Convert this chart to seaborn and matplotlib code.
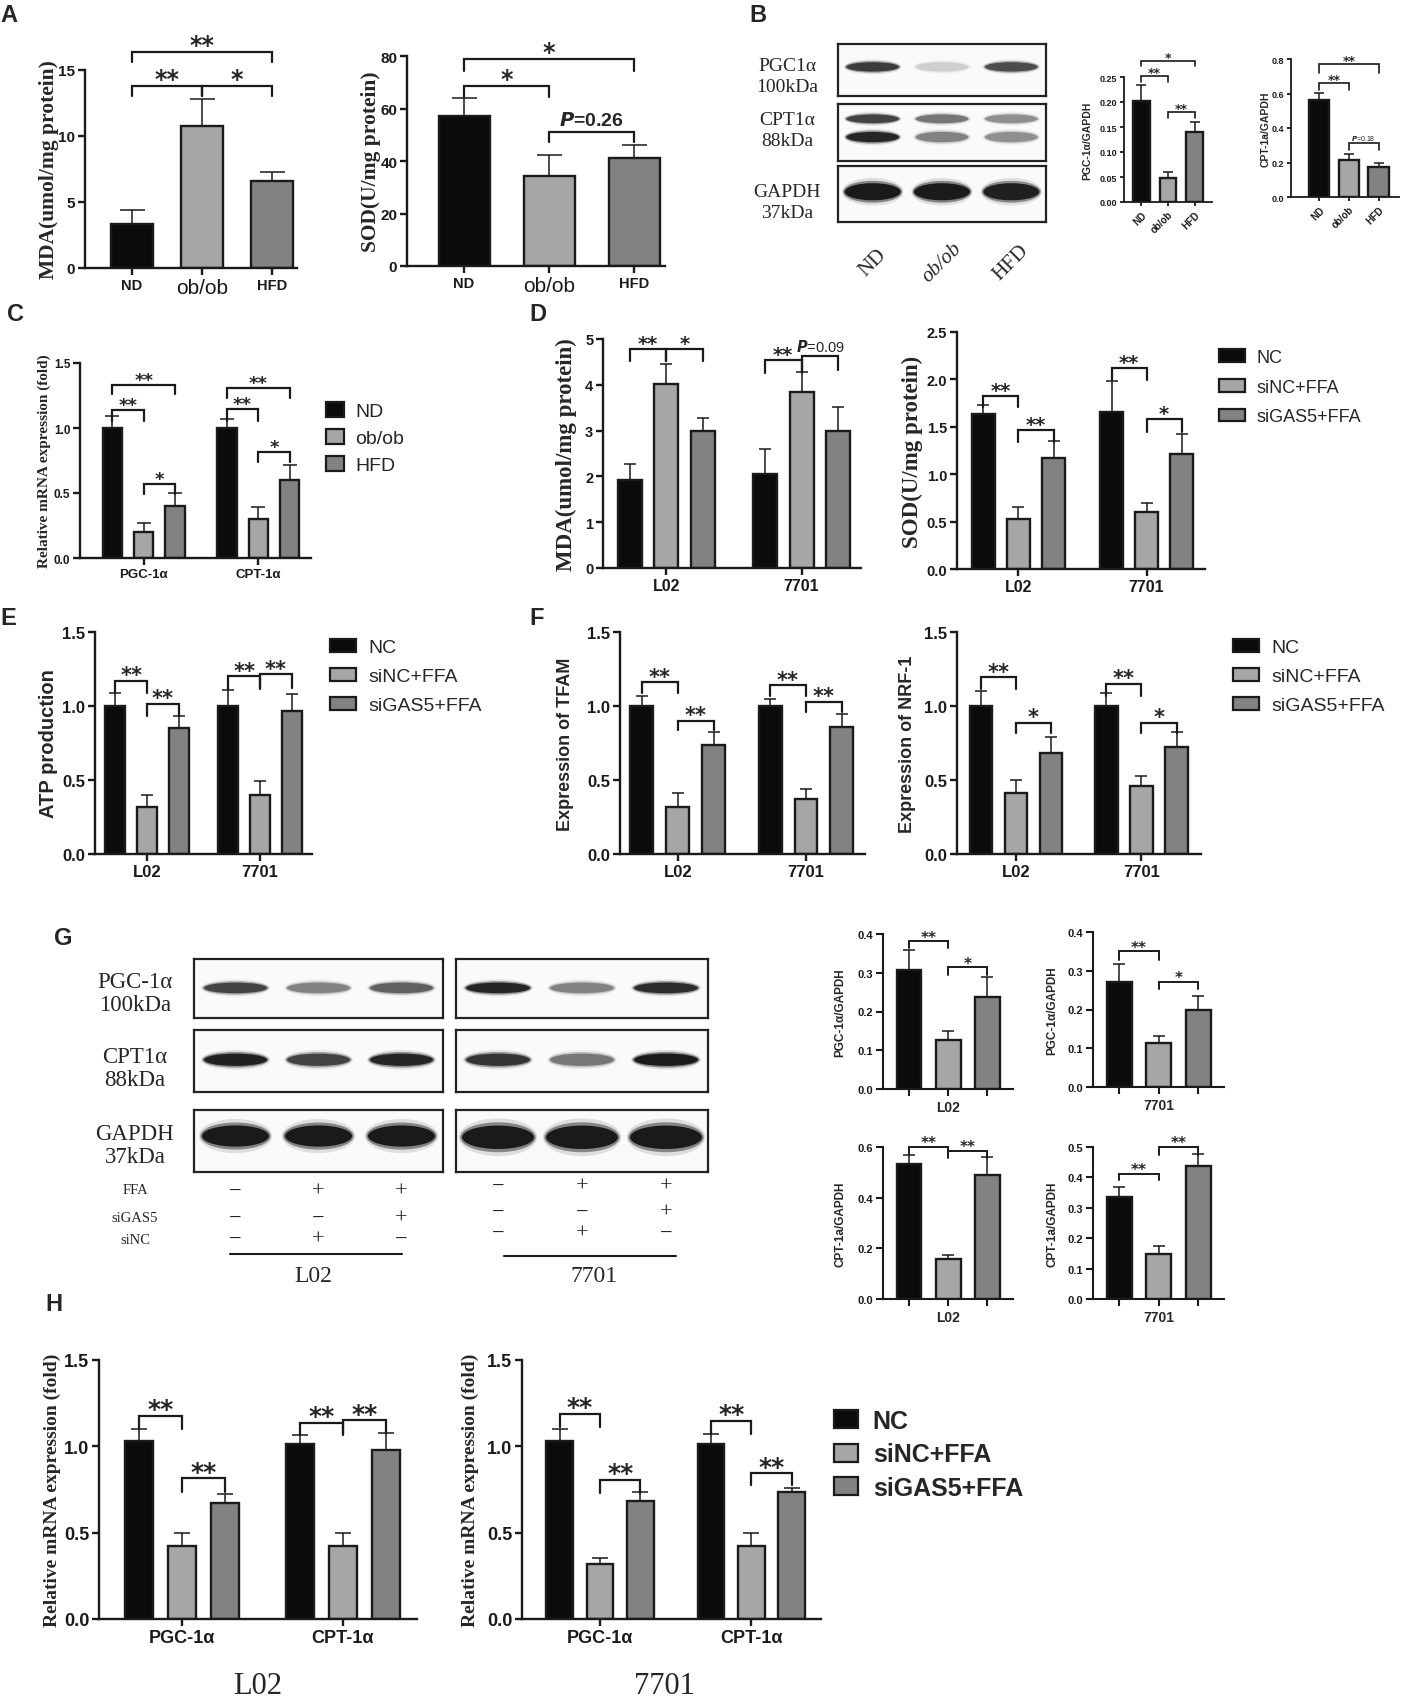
import numpy as np
import pandas as pd
import matplotlib
matplotlib.use("Agg")
import matplotlib.pyplot as plt
import matplotlib.transforms as mtransforms
from matplotlib.patches import Patch, Ellipse
from matplotlib.lines import Line2D
from matplotlib.ticker import FormatStrFormatter
import seaborn as sns

# ------------------------------------------------------------------ data
mice = ["ND", "ob/ob", "HFD"]
cells = ["L02", "7701"]
genes = ["PGC-1α", "CPT-1α"]
treat = ["NC", "siNC+FFA", "siGAS5+FFA"]

a_mda = [3.3, 10.75, 6.6]
a_mda_sem = [1.1, 2.05, 0.65]
a_sod = [57.3, 34.4, 41.1]
a_sod_sem = [6.6, 7.9, 5.0]

b_pgc = [0.203, 0.049, 0.140]
b_pgc_sem = [0.032, 0.011, 0.021]
b_cpt = [0.565, 0.212, 0.172]
b_cpt_sem = [0.036, 0.038, 0.027]

c_nd = [1.0, 1.0]
c_ob = [0.2, 0.3]
c_hfd = [0.4, 0.6]
c_nd_sem = [0.09, 0.07]
c_ob_sem = [0.07, 0.09]
c_hfd_sem = [0.10, 0.115]

d_mda_nc = [1.93, 2.06]
d_mda_sinc = [4.02, 3.85]
d_mda_sigas = [3.0, 3.0]
d_mda_nc_sem = [0.33, 0.53]
d_mda_sinc_sem = [0.43, 0.43]
d_mda_sigas_sem = [0.27, 0.51]

d_sod_nc = [1.64, 1.66]
d_sod_sinc = [0.53, 0.60]
d_sod_sigas = [1.17, 1.21]
d_sod_nc_sem = [0.09, 0.32]
d_sod_sinc_sem = [0.12, 0.10]
d_sod_sigas_sem = [0.18, 0.21]

e_atp_nc = [1.0, 1.0]
e_atp_sinc = [0.32, 0.40]
e_atp_sigas = [0.85, 0.965]
e_atp_nc_sem = [0.09, 0.11]
e_atp_sinc_sem = [0.08, 0.09]
e_atp_sigas_sem = [0.085, 0.115]

f_tfam_nc = [1.0, 1.0]
f_tfam_sinc = [0.315, 0.372]
f_tfam_sigas = [0.734, 0.855]
f_tfam_nc_sem = [0.07, 0.05]
f_tfam_sinc_sem = [0.095, 0.068]
f_tfam_sigas_sem = [0.09, 0.093]

f_nrf_nc = [1.0, 1.0]
f_nrf_sinc = [0.41, 0.457]
f_nrf_sigas = [0.685, 0.72]
f_nrf_nc_sem = [0.10, 0.09]
f_nrf_sinc_sem = [0.09, 0.068]
f_nrf_sigas_sem = [0.105, 0.104]

g_pgc_l02 = [0.307, 0.127, 0.237]
g_pgc_l02_sem = [0.052, 0.022, 0.051]
g_pgc_7701 = [0.271, 0.114, 0.200]
g_pgc_7701_sem = [0.046, 0.017, 0.036]
g_cpt_l02 = [0.532, 0.157, 0.491]
g_cpt_l02_sem = [0.038, 0.017, 0.070]
g_cpt_7701 = [0.335, 0.148, 0.436]
g_cpt_7701_sem = [0.033, 0.025, 0.042]

h_l02_nc = [1.031, 1.012]
h_l02_sinc = [0.42, 0.42]
h_l02_sigas = [0.669, 0.979]
h_l02_nc_sem = [0.068, 0.054]
h_l02_sinc_sem = [0.077, 0.077]
h_l02_sigas_sem = [0.054, 0.10]
h_7701_nc = [1.031, 1.012]
h_7701_sinc = [0.316, 0.42]
h_7701_sigas = [0.682, 0.733]
h_7701_nc_sem = [0.068, 0.058]
h_7701_sinc_sem = [0.035, 0.077]
h_7701_sigas_sem = [0.054, 0.025]

# western blot band intensities (relative darkness per lane)
blotB_pgc = [0.75, 0.12, 0.65]
blotB_cpt_upper = [0.70, 0.45, 0.35]
blotB_cpt_lower = [0.90, 0.40, 0.35]
blotB_gapdh = [1.0, 1.0, 0.95]
blotG_l02_pgc = [0.70, 0.40, 0.55]
blotG_l02_cpt = [0.95, 0.70, 0.90]
blotG_l02_gapdh = [1.0, 1.0, 1.0]
blotG_7701_pgc = [0.90, 0.40, 0.85]
blotG_7701_cpt = [0.80, 0.45, 1.0]
blotG_7701_gapdh = [1.0, 1.0, 1.0]

ffa_row = ["−", "+", "+"]
sigas5_row = ["−", "−", "+"]
sinc_row = ["−", "+", "−"]

# ------------------------------------------------------------------ style
sns.set_theme(style="ticks")
NARROW = ["Liberation Sans Narrow", "Liberation Sans", "DejaVu Sans"]
SANS = ["Liberation Sans", "DejaVu Sans"]
SERIF = ["Liberation Serif", "DejaVu Serif"]
STAR = ["DejaVu Sans"]
plt.rcParams["font.family"] = NARROW
plt.rcParams["font.weight"] = "bold"
plt.rcParams["axes.labelweight"] = "bold"
plt.rcParams["mathtext.fontset"] = "custom"
plt.rcParams["mathtext.it"] = "Liberation Sans Narrow:italic:bold"
plt.rcParams["mathtext.rm"] = "Liberation Sans Narrow:bold"

PAL = ["#0b0b0b", "#a6a6a9", "#828282"]
BLW = 1.7

W, H = 1402, 1699
fig = plt.figure(figsize=(W / 100, H / 100), dpi=100)
fig.patch.set_facecolor("white")


def axes_px(x0, yt, x1, yb):
    return fig.add_axes([x0 / W, 1 - yb / H, (x1 - x0) / W, (yb - yt) / H])


def ftext(x, y, s, **kw):
    return fig.text(x / W, 1 - y / H, s, **kw)


def single_bars(ax, cats, means, sems, width, cap):
    sns.barplot(x=cats, y=means, hue=cats, palette=PAL, saturation=1, width=width,
                edgecolor="k", linewidth=BLW, errorbar=None, legend=False, ax=ax, zorder=2)
    pts = sorted(ax.patches, key=lambda p: p.get_x())
    centers = np.array([p.get_x() + p.get_width() / 2 for p in pts])
    ax.errorbar(centers, means, yerr=[np.zeros(len(means)), sems], fmt="none", ecolor="k",
                elinewidth=1.1, capsize=cap, capthick=1.1, zorder=3)
    return centers


def grouped_bars(ax, groups, levels, means, sems, width, gap, cap):
    rows = []
    for hi, lev in enumerate(levels):
        for gi, g in enumerate(groups):
            rows.append({"group": g, "cond": lev, "value": means[hi][gi]})
    df = pd.DataFrame(rows)
    sns.barplot(data=df, x="group", y="value", hue="cond", order=groups, hue_order=levels,
                palette=PAL, saturation=1, width=width, gap=gap, edgecolor="k", linewidth=BLW,
                errorbar=None, legend=False, ax=ax, zorder=2)
    centers = np.zeros((len(groups), len(levels)))
    for hi, cont in enumerate(ax.containers):
        for p in cont.patches:
            cx = p.get_x() + p.get_width() / 2
            centers[int(round(cx)), hi] = cx
    for hi in range(len(levels)):
        ax.errorbar(centers[:, hi], means[hi], yerr=[np.zeros(len(groups)), sems[hi]], fmt="none",
                    ecolor="k", elinewidth=1.1, capsize=cap, capthick=1.1, zorder=3)
    return centers


def frame(ax, ylim, yticks, fmt, tfs, xlim=None, lw=1.7, tl=5):
    ax.set_ylim(*ylim)
    ax.set_yticks(yticks)
    ax.yaxis.set_major_formatter(FormatStrFormatter(fmt))
    if xlim is not None:
        ax.set_xlim(*xlim)
    sns.despine(ax=ax)
    for s in ("left", "bottom"):
        ax.spines[s].set_linewidth(lw)
        ax.spines[s].set_color("k")
    ax.tick_params(axis="both", direction="out", length=tl, width=lw, colors="k",
                   labelsize=tfs, pad=2)
    ax.set_xlabel("")
    ax.set_ylabel("")
    ax.set_facecolor("none")


def ylab(ax, text, xc, x0, x1, fs, family):
    ax.set_ylabel(text, fontsize=fs, family=family, fontweight="bold", va="center")
    ax.yaxis.set_label_coords((xc - x0) / (x1 - x0), 0.5)


def bracket(ax, xa, xb, y, h, label, fs, lw=1.6, star=True, off=None, weight="bold"):
    ax.plot([xa, xa, xb, xb], [y - h, y, y, y - h], color="k", lw=lw, clip_on=False,
            solid_joinstyle="miter", zorder=5)
    if star:
        o = -0.22 * fs if off is None else off
        ax.annotate(label, xy=((xa + xb) / 2, y), xytext=(0, o), textcoords="offset points",
                    ha="center", va="bottom", fontsize=fs, fontweight="bold", family=STAR,
                    annotation_clip=False)
    else:
        o = 2 if off is None else off
        ax.annotate(label, xy=((xa + xb) / 2, y), xytext=(0, o), textcoords="offset points",
                    ha="center", va="bottom", fontsize=fs, fontweight=weight, family=NARROW,
                    annotation_clip=False)


def legend_px(x, y, fs, hl, hh, ls, weight="normal"):
    handles = [Patch(facecolor=c, edgecolor="k", linewidth=1.6) for c in PAL]
    fig.legend(handles, treat, loc="upper left", bbox_to_anchor=(x / W, 1 - y / H),
               frameon=False, handlelength=hl, handleheight=hh, labelspacing=ls,
               handletextpad=0.6, borderpad=0, borderaxespad=0,
               prop=dict(family=NARROW, size=fs, weight=weight))


def blot(ax, bands, bw=0.8):
    ax.set_xlim(-0.5, 2.5)
    ax.set_ylim(0, 1)
    ax.set_xticks([])
    ax.set_yticks([])
    ax.set_facecolor("#fafafa")
    for s in ax.spines.values():
        s.set_visible(True)
        s.set_linewidth(1.6)
        s.set_color("#222222")
    for intens, ypos, bh in bands:
        for lane, v in enumerate(intens):
            for sx, sy, a in [(1.04, 1.45, 0.12), (1.0, 1.15, 0.45), (0.95, 0.9, 1.0)]:
                ax.add_patch(Ellipse((lane, ypos), bw * sx, bh * sy, facecolor="k",
                                     alpha=min(1.0, v * a), lw=0))


def letter(x, y, s):
    ftext(x, y, s, fontsize=17, fontweight="bold", family=SANS, va="top", ha="left")


# ------------------------------------------------------------------ Panel A
letter(0, 4, "A")
axA1 = axes_px(85, 71, 297, 269)
cA1 = single_bars(axA1, mice, a_mda, a_mda_sem, 0.6, 9)
frame(axA1, (0, 15), [0, 5, 10, 15], "%d", 11, xlim=(-0.67, 2.36))
ylab(axA1, "MDA(umol/mg protein)", 49, 85, 297, 15.5, SERIF)
bracket(axA1, cA1[0], cA1[2], 16.4, 0.8, "**", 17)
bracket(axA1, cA1[0], cA1[1], 13.8, 0.8, "**", 17)
bracket(axA1, cA1[1], cA1[2], 13.8, 0.8, "*", 17)

axA2 = axes_px(407, 57, 665, 267)
cA2 = single_bars(axA2, mice, a_sod, a_sod_sem, 0.6, 9)
frame(axA2, (0, 80), [0, 20, 40, 60, 80], "%d", 11, xlim=(-0.67, 2.36))
ylab(axA2, "SOD(U/mg protein)", 371, 407, 665, 15.5, SERIF)
bracket(axA2, cA2[0], cA2[2], 78.9, 4.6, "*", 17)
bracket(axA2, cA2[0], cA2[1], 68.6, 4.2, "*", 17)
bracket(axA2, cA2[1], cA2[2], 51.0, 3.8, "$P$=0.26", 14, star=False)
for ax in (axA1, axA2):
    labs = ax.get_xticklabels()
    for i, t in enumerate(labs):
        if i == 1:
            t.set_fontsize(15)
            t.set_fontweight("normal")
        else:
            t.set_fontsize(10.5)

# ------------------------------------------------------------------ Panel B
letter(749, 4, "B")
blot(axes_px(838, 45, 1046, 97), [(blotB_pgc, 0.56, 0.2)])
blot(axes_px(838, 105, 1046, 162), [(blotB_cpt_upper, 0.74, 0.17), (blotB_cpt_lower, 0.42, 0.2)])
axBg = axes_px(838, 167, 1046, 223)
blot(axBg, [(blotB_gapdh, 0.54, 0.34)], bw=0.85)
trB = mtransforms.blended_transform_factory(axBg.transData, axBg.transAxes)
for i, m in enumerate(mice):
    axBg.text(i, -0.72, m, transform=trB, rotation=45, ha="center", va="center",
              family=SERIF, fontsize=15, fontweight="normal", style="italic" if i == 1 else "normal")
for txt, y in [("PGC1α\n100kDa", 77), ("CPT1α\n88kDa", 131), ("GAPDH\n37kDa", 203)]:
    ftext(787, y, txt, family=SERIF, fontsize=14, fontweight="normal", ha="center", va="center",
          linespacing=1.25)

axB1 = axes_px(1124, 78, 1212, 203)
cB1 = single_bars(axB1, mice, b_pgc, b_pgc_sem, 0.63, 3.5)
frame(axB1, (0, 0.25), [0, 0.05, 0.10, 0.15, 0.20, 0.25], "%.2f", 6.5, xlim=(-0.65, 2.65), lw=1.3, tl=3)
ylab(axB1, "PGC-1α/GAPDH", 1087, 1124, 1212, 7.5, SANS)
bracket(axB1, cB1[0], cB1[2], 0.282, 0.010, "*", 9, lw=1.2)
bracket(axB1, cB1[0], cB1[1], 0.252, 0.012, "**", 9, lw=1.2)
bracket(axB1, cB1[1], cB1[2], 0.180, 0.012, "**", 9, lw=1.2)

axB2 = axes_px(1291, 60, 1399, 198)
cB2 = single_bars(axB2, mice, b_cpt, b_cpt_sem, 0.68, 3.5)
frame(axB2, (0, 0.8), [0, 0.2, 0.4, 0.6, 0.8], "%.1f", 6.5, xlim=(-0.95, 2.69), lw=1.3, tl=3)
ylab(axB2, "CPT-1a/GAPDH", 1266, 1291, 1399, 7.5, SANS)
bracket(axB2, cB2[0], cB2[2], 0.771, 0.05, "**", 9, lw=1.2)
bracket(axB2, cB2[0], cB2[1], 0.66, 0.04, "**", 9, lw=1.2)
bracket(axB2, cB2[1], cB2[2], 0.313, 0.04, "$P$=0.18", 5, star=False, lw=1.2, off=1, weight="normal")
for ax in (axB1, axB2):
    ax.set_xticks(range(3))
    ax.set_xticklabels(mice, rotation=45, ha="right", rotation_mode="anchor", fontsize=7)

# ------------------------------------------------------------------ Panel C
letter(7, 303, "C")
axC = axes_px(80, 364, 311, 559)
cC = grouped_bars(axC, genes, mice, [c_nd, c_ob, c_hfd], [c_nd_sem, c_ob_sem, c_hfd_sem], 0.82, 0.38, 5)
frame(axC, (0, 1.5), [0, 0.5, 1.0, 1.5], "%.1f", 8.5, xlim=(-0.555, 1.46))
ylab(axC, "Relative mRNA expression (fold)", 44, 80, 311, 11, SERIF)
for g, (yt, ht, ys, hs, ys2, hs2) in enumerate([(1.33, 0.07, 1.14, 0.085, 0.571, 0.077),
                                                (1.305, 0.075, 1.147, 0.09, 0.814, 0.077)]):
    bracket(axC, cC[g, 0], cC[g, 2], yt, ht, "**", 13)
    bracket(axC, cC[g, 0], cC[g, 1], ys, hs, "**", 13)
    bracket(axC, cC[g, 1], cC[g, 2], ys2, hs2, "*", 13)
axC.tick_params(axis="x", labelsize=9.5)
handles = [Patch(facecolor=c, edgecolor="k", linewidth=1.6) for c in PAL]
fig.legend(handles, mice, loc="upper left", bbox_to_anchor=(326 / W, 1 - 403 / H), frameon=False,
           handlelength=0.9, handleheight=0.8, labelspacing=0.45, handletextpad=0.6, borderpad=0,
           borderaxespad=0, prop=dict(family=NARROW, size=14, weight="normal"))

# ------------------------------------------------------------------ Panel D
letter(529, 303, "D")
axD1 = axes_px(603, 340, 861, 569)
cD1 = grouped_bars(axD1, cells, treat, [d_mda_nc, d_mda_sinc, d_mda_sigas],
                   [d_mda_nc_sem, d_mda_sinc_sem, d_mda_sigas_sem], 0.82, 0.35, 4.5)
frame(axD1, (0, 5), [0, 1, 2, 3, 4, 5], "%d", 10.5, xlim=(-0.47, 1.44))
ylab(axD1, "MDA(umol/mg protein)", 566, 603, 861, 16.5, SERIF)
bracket(axD1, cD1[0, 0], cD1[0, 1], 4.78, 0.25, "**", 14)
bracket(axD1, cD1[0, 1], cD1[0, 2], 4.78, 0.25, "*", 14)
bracket(axD1, cD1[1, 0], cD1[1, 1], 4.55, 0.3, "**", 14)
bracket(axD1, cD1[1, 1], cD1[1, 2], 4.62, 0.3, "$P$=0.09", 10.5, star=False, weight="normal")

axD2 = axes_px(957, 333, 1205, 570)
cD2 = grouped_bars(axD2, cells, treat, [d_sod_nc, d_sod_sinc, d_sod_sigas],
                   [d_sod_nc_sem, d_sod_sinc_sem, d_sod_sigas_sem], 0.82, 0.35, 4.5)
frame(axD2, (0, 2.5), [0, 0.5, 1.0, 1.5, 2.0, 2.5], "%.1f", 10.5, xlim=(-0.48, 1.456))
ylab(axD2, "SOD(U/mg protein)", 912, 957, 1205, 16.5, SERIF)
bracket(axD2, cD2[0, 0], cD2[0, 1], 1.83, 0.12, "**", 14)
bracket(axD2, cD2[0, 1], cD2[0, 2], 1.47, 0.13, "**", 14)
bracket(axD2, cD2[1, 0], cD2[1, 1], 2.12, 0.13, "**", 14)
bracket(axD2, cD2[1, 1], cD2[1, 2], 1.58, 0.14, "*", 14)
for ax in (axD1, axD2):
    ax.tick_params(axis="x", labelsize=11.5)
legend_px(1219, 350, 13, 1.45, 0.7, 0.7)

# ------------------------------------------------------------------ Panel E
letter(0, 607, "E")
axE = axes_px(95, 633, 312, 855)
cE = grouped_bars(axE, cells, treat, [e_atp_nc, e_atp_sinc, e_atp_sigas],
                  [e_atp_nc_sem, e_atp_sinc_sem, e_atp_sigas_sem], 0.84, 0.36, 4.5)
frame(axE, (0, 1.5), [0, 0.5, 1.0, 1.5], "%.1f", 12, xlim=(-0.46, 1.46))
ylab(axE, "ATP production", 49, 95, 312, 14.5, SANS)
bracket(axE, cE[0, 0], cE[0, 1], 1.17, 0.08, "**", 15)
bracket(axE, cE[0, 1], cE[0, 2], 1.015, 0.08, "**", 15)
bracket(axE, cE[1, 0], cE[1, 1], 1.20, 0.085, "**", 15)
bracket(axE, cE[1, 1], cE[1, 2], 1.215, 0.09, "**", 15)
axE.tick_params(axis="x", labelsize=12)
legend_px(330, 640, 14, 1.35, 0.65, 0.6)

# ------------------------------------------------------------------ Panel F
letter(529, 607, "F")
axF1 = axes_px(620, 633, 865, 855)
cF1 = grouped_bars(axF1, cells, treat, [f_tfam_nc, f_tfam_sinc, f_tfam_sigas],
                   [f_tfam_nc_sem, f_tfam_sinc_sem, f_tfam_sigas_sem], 0.84, 0.36, 4.5)
frame(axF1, (0, 1.5), [0, 0.5, 1.0, 1.5], "%.1f", 12, xlim=(-0.45, 1.46))
ylab(axF1, "Expression of TFAM", 565, 620, 865, 13, SANS)
bracket(axF1, cF1[0, 0], cF1[0, 1], 1.16, 0.07, "**", 15)
bracket(axF1, cF1[0, 1], cF1[0, 2], 0.90, 0.065, "**", 15)
bracket(axF1, cF1[1, 0], cF1[1, 1], 1.14, 0.07, "**", 15)
bracket(axF1, cF1[1, 1], cF1[1, 2], 1.03, 0.07, "**", 15)

axF2 = axes_px(957, 633, 1201, 855)
cF2 = grouped_bars(axF2, cells, treat, [f_nrf_nc, f_nrf_sinc, f_nrf_sigas],
                   [f_nrf_nc_sem, f_nrf_sinc_sem, f_nrf_sigas_sem], 0.84, 0.36, 4.5)
frame(axF2, (0, 1.5), [0, 0.5, 1.0, 1.5], "%.1f", 12, xlim=(-0.47, 1.475))
ylab(axF2, "Expression of NRF-1", 908, 957, 1201, 13, SANS)
bracket(axF2, cF2[0, 0], cF2[0, 1], 1.196, 0.08, "**", 15)
bracket(axF2, cF2[0, 1], cF2[0, 2], 0.887, 0.072, "*", 15)
bracket(axF2, cF2[1, 0], cF2[1, 1], 1.15, 0.08, "**", 15)
bracket(axF2, cF2[1, 1], cF2[1, 2], 0.887, 0.072, "*", 15)
for ax in (axF1, axF2):
    ax.tick_params(axis="x", labelsize=12)
legend_px(1233, 640, 14, 1.35, 0.65, 0.6)

# ------------------------------------------------------------------ Panel G blots
letter(54, 927, "G")
blot(axes_px(194, 960, 443, 1019), [(blotG_l02_pgc, 0.51, 0.2)])
blot(axes_px(194, 1031, 443, 1093), [(blotG_l02_cpt, 0.52, 0.22)])
blot(axes_px(194, 1111, 443, 1173), [(blotG_l02_gapdh, 0.58, 0.38)], bw=0.85)
blot(axes_px(456, 960, 708, 1019), [(blotG_7701_pgc, 0.51, 0.2)])
blot(axes_px(456, 1031, 708, 1093), [(blotG_7701_cpt, 0.52, 0.22)])
blot(axes_px(456, 1111, 708, 1173), [(blotG_7701_gapdh, 0.56, 0.42)], bw=0.9)
for txt, y in [("PGC-1α\n100kDa", 994), ("CPT1α\n88kDa", 1069), ("GAPDH\n37kDa", 1146)]:
    ftext(135, y, txt, family=SERIF, fontsize=16.5, fontweight="normal", ha="center", va="center",
          linespacing=1.15)
for name, y in [("FFA", 1190), ("siGAS5", 1218), ("siNC", 1241)]:
    ftext(135, y, name, family=SERIF, fontsize=10.5, fontweight="normal", ha="center", va="center")
for (x0, x1, ys) in [(194, 443, (1192, 1219, 1240)), (456, 708, (1187, 1213, 1234))]:
    tab = axes_px(x0, 1175, x1, 1255)
    tab.set_xlim(-0.5, 2.5)
    tab.set_ylim(1255, 1175)
    tab.axis("off")
    for row, yy in zip([ffa_row, sigas5_row, sinc_row], ys):
        for lane, sym in enumerate(row):
            tab.text(lane, yy, sym, ha="center", va="center", family=SERIF, fontsize=16,
                     fontweight="normal")
fig.add_artist(Line2D([230 / W, 402 / W], [1 - 1255 / H] * 2, color="k", lw=1.5))
fig.add_artist(Line2D([504 / W, 676 / W], [1 - 1257 / H] * 2, color="k", lw=1.5))
ftext(313, 1276, "L02", family=SERIF, fontsize=17, fontweight="normal", ha="center", va="center")
ftext(594, 1276, "7701", family=SERIF, fontsize=17, fontweight="normal", ha="center", va="center")

# ------------------------------------------------------------------ Panel G charts
g_specs = [
    ((883, 935, 1013, 1090), g_pgc_l02, g_pgc_l02_sem, (0, 0.4), [0, 0.1, 0.2, 0.3, 0.4], "PGC-1α/GAPDH", 840, "L02",
     [(0, 1, 0.381, 0.018, "**"), (1, 2, 0.314, 0.02, "*")]),
    ((1093, 933, 1224, 1088), g_pgc_7701, g_pgc_7701_sem, (0, 0.4), [0, 0.1, 0.2, 0.3, 0.4], "PGC-1α/GAPDH", 1052, "7701",
     [(0, 1, 0.35, 0.021, "**"), (1, 2, 0.271, 0.019, "*")]),
    ((883, 1148, 1013, 1300), g_cpt_l02, g_cpt_l02_sem, (0, 0.6), [0, 0.2, 0.4, 0.6], "CPT-1a/GAPDH", 840, "L02",
     [(0, 1, 0.60, 0.026, "**"), (1, 2, 0.584, 0.027, "**")]),
    ((1093, 1148, 1224, 1300), g_cpt_7701, g_cpt_7701_sem, (0, 0.5), [0, 0.1, 0.2, 0.3, 0.4, 0.5], "CPT-1a/GAPDH", 1052, "7701",
     [(0, 1, 0.412, 0.022, "**"), (1, 2, 0.50, 0.025, "**")]),
]
for rect, vals, sems, yl, yt, lab, lx, cell, brs in g_specs:
    ax = axes_px(*rect)
    cx = single_bars(ax, treat, vals, sems, 0.63, 4)
    frame(ax, yl, yt, "%.1f", 8, xlim=(-0.66, 2.65), lw=1.5, tl=5)
    ax.set_xticks(range(3))
    ax.set_xticklabels(["", "", ""])
    ax.set_xlabel(cell, fontsize=10, family=SANS, fontweight="bold", labelpad=1)
    ylab(ax, lab, lx, rect[0], rect[2], 8.5, SANS)
    for i, j, y, h, s in brs:
        bracket(ax, cx[i], cx[j], y, h, s, 11, lw=1.4)

# ------------------------------------------------------------------ Panel H
letter(45, 1293, "H")
axH1 = axes_px(99, 1361, 417, 1620)
cH1 = grouped_bars(axH1, genes, treat, [h_l02_nc, h_l02_sinc, h_l02_sigas],
                   [h_l02_nc_sem, h_l02_sinc_sem, h_l02_sigas_sem], 0.8, 0.34, 6)
frame(axH1, (0, 1.5), [0, 0.5, 1.0, 1.5], "%.1f", 13, xlim=(-0.515, 1.46))
ylab(axH1, "Relative mRNA expression (fold)", 52, 99, 417, 14, SERIF)
bracket(axH1, cH1[0, 0], cH1[0, 1], 1.176, 0.076, "**", 18)
bracket(axH1, cH1[0, 1], cH1[0, 2], 0.814, 0.077, "**", 18)
bracket(axH1, cH1[1, 0], cH1[1, 1], 1.138, 0.074, "**", 18)
bracket(axH1, cH1[1, 1], cH1[1, 2], 1.15, 0.07, "**", 18)

axH2 = axes_px(522, 1361, 821, 1620)
cH2 = grouped_bars(axH2, genes, treat, [h_7701_nc, h_7701_sinc, h_7701_sigas],
                   [h_7701_nc_sem, h_7701_sinc_sem, h_7701_sigas_sem], 0.8, 0.34, 6)
frame(axH2, (0, 1.5), [0, 0.5, 1.0, 1.5], "%.1f", 13, xlim=(-0.515, 1.46))
ylab(axH2, "Relative mRNA expression (fold)", 470, 522, 821, 14, SERIF)
bracket(axH2, cH2[0, 0], cH2[0, 1], 1.19, 0.08, "**", 18)
bracket(axH2, cH2[0, 1], cH2[0, 2], 0.806, 0.077, "**", 18)
bracket(axH2, cH2[1, 0], cH2[1, 1], 1.147, 0.077, "**", 18)
bracket(axH2, cH2[1, 1], cH2[1, 2], 0.844, 0.069, "**", 18)
for ax in (axH1, axH2):
    ax.tick_params(axis="x", labelsize=13)
ftext(258, 1687, "L02", family=SERIF, fontsize=22, fontweight="normal", ha="center", va="center")
ftext(664, 1687, "7701", family=SERIF, fontsize=22, fontweight="normal", ha="center", va="center")
legend_px(834, 1410, 18, 0.95, 0.72, 0.38, weight="bold")

fig.savefig("out.png", dpi=100, facecolor="white")
